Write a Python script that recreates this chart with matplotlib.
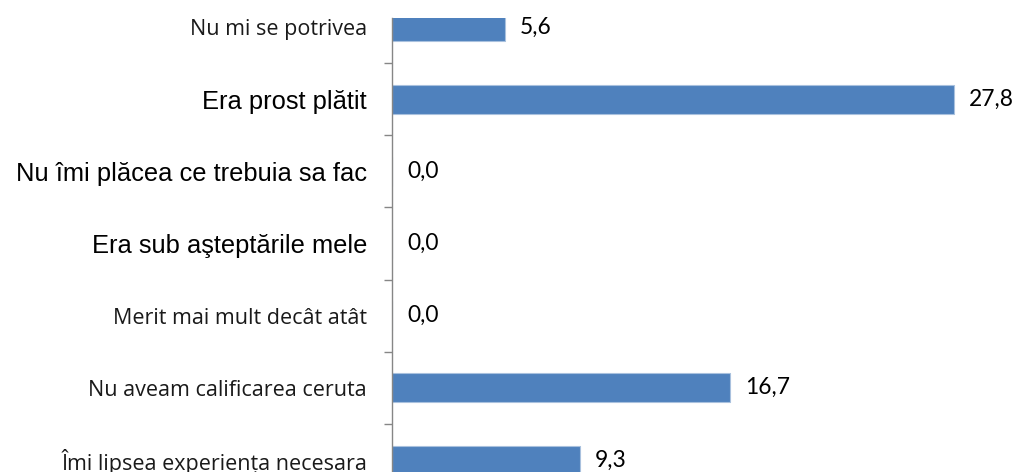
import matplotlib
matplotlib.use("Agg")
import matplotlib.pyplot as plt
from matplotlib.ticker import FixedLocator

categories = [
    "Nu mi se potrivea",
    "Era prost plătit",
    "Nu îmi plăcea ce trebuia sa fac",
    "Era sub aşteptările mele",
    "Merit mai mult decât atât",
    "Nu aveam calificarea ceruta",
    "Îmi lipsea experiența necesara",
]
values = [5.6, 27.8, 0.0, 0.0, 0.0, 16.7, 9.3]

# label styling (Arial-like vs Calibri-like in the original)
arial_labels = {"Era prost plătit", "Nu îmi plăcea ce trebuia sa fac", "Era sub aşteptările mele"}

W, H, DPI = 1018, 472, 100
fig = plt.figure(figsize=(W / DPI, H / DPI), dpi=DPI)

ax_left_px, ax_top_px = 392, 18
ax = fig.add_axes([ax_left_px / W, 0.0, 1 - ax_left_px / W, (H - ax_top_px) / H])

y = list(range(len(categories)))
ax.barh(y, values, height=0.4, color="#4F81BD", edgecolor="#a9c1de", linewidth=0.8)

px_per_cat = 72.15
c0 = 27.05
ax.set_ylim((H - c0) / px_per_cat, (ax_top_px - c0) / px_per_cat)
px_per_unit = 20.22
ax.set_xlim(0, (W - ax_left_px) / px_per_unit)

for s in ["top", "right", "bottom"]:
    ax.spines[s].set_visible(False)
ax.spines["left"].set_color("#868686")
ax.spines["left"].set_linewidth(1.0)
ax.set_xticks([])

ax.set_yticks(y)
ax.set_yticklabels(categories)
ax.tick_params(axis="y", which="major", length=0, pad=18)
ax.yaxis.set_minor_locator(FixedLocator([i + 0.5 for i in range(-1, len(categories))]))
ax.tick_params(axis="y", which="minor", length=6, width=1.0, color="#868686", direction="out")

for lbl in ax.get_yticklabels():
    if lbl.get_text() in arial_labels:
        lbl.set_fontfamily("Liberation Sans")
        lbl.set_fontsize(18.4)
        lbl.set_color("#000000")
    else:
        lbl.set_fontfamily("Open Sans")
        lbl.set_fontsize(15.5)
        lbl.set_color("#1a1a1a")

for yi, v in zip(y, values):
    ax.text(v + 15 / px_per_unit, yi, f"{v:.1f}".replace(".", ","),
            va="center", ha="left", fontsize=16.4, family="Lato", color="#000000",
            clip_on=False)

fig.savefig("out.png", dpi=DPI)
